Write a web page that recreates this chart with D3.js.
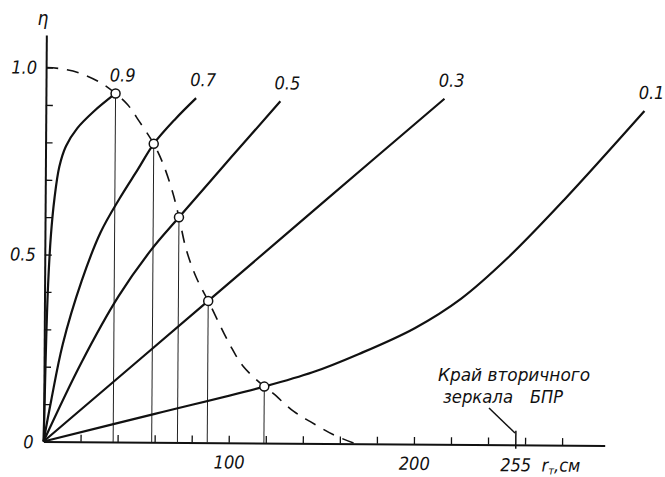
<!DOCTYPE html>
<html>
<head>
<meta charset="utf-8">
<script src="https://cdn.jsdelivr.net/npm/d3@7"></script>
<style>
body { margin: 0; background: #fff; }
text { font-family: "Liberation Sans Narrow", "DejaVu Sans Condensed", "DejaVu Sans", sans-serif; font-style: italic; fill: #111; }
</style>
</head>
<body>
<div id="chart"></div>
<script>

// parameter of every curve, in the same order as the curves below
var curveLabels = ["0.9", "0.7", "0.5", "0.3", "0.1"];

// the curves, as [r_т in cm, η] pairs
var curve09 = [[0, 0], [0.5, 0.12], [1.1, 0.28], [1.9, 0.42], [3.2, 0.55], [5.0, 0.65], [7.5, 0.735], [11, 0.79], [17, 0.838], [26, 0.884], [37.6, 0.932]];
var curve07 = [[0, 0], [4, 0.11], [10, 0.26], [20, 0.43], [30, 0.56], [40, 0.65], [50, 0.73], [58.4, 0.798], [70, 0.865], [81.1, 0.921]];
var curve05 = [[0, 0], [20, 0.21], [40, 0.39], [57.5, 0.515], [72.3, 0.602], [100, 0.762], [126.6, 0.914]];
var curve03 = [[0, 0], [88.4, 0.379], [151.8, 0.652], [215.2, 0.924]];
var curve01 = [[0, 0], [60, 0.076], [119, 0.151], [145, 0.19], [170, 0.24], [200, 0.31], [225, 0.39], [250, 0.5], [280, 0.655], [323.2, 0.895]];

// dashed boundary curve through the marked points
var dashedBound = [[0, 1.0], [8, 0.997], [18, 0.986], [29.7, 0.96], [37.6, 0.932], [44.2, 0.902], [50.6, 0.857], [58.4, 0.798], [63.5, 0.745], [68.9, 0.667], [72.3, 0.602], [76.4, 0.515], [82, 0.44], [88.4, 0.379], [100.3, 0.262], [107.5, 0.205], [119.0, 0.151], [124, 0.132], [135, 0.085], [144, 0.058], [156.3, 0.024], [168.2, 0]];

// marked intersection points
var markR = [37.6, 58.4, 72.3, 88.4, 119.0];
var markEta = [0.932, 0.798, 0.602, 0.379, 0.151];

// ticks
var xTicks = [20, 40, 60, 80, 100, 120, 140, 160, 180, 200, 220, 240, 260, 280];
var xTickLabels = [100, 200];
var yTicks = [0.1, 0.2, 0.3, 0.4, 0.5, 0.6, 0.7, 0.8, 0.9, 1.0];
var yTickLabels = [0.5, 1.0];
var mirrorEdge = 255; // edge of the secondary mirror

var svgWidth = 665, svgHeight = 477;
var originX = 43.5, originY = 441.5;

var svg = d3.select("#chart").append("svg")
    .attr("width", svgWidth)
    .attr("height", svgHeight);

var x = d3.scaleLinear().domain([0, 303]).range([0, 561.2]);
var y = d3.scaleLinear().domain([0, 1.087]).range([0, -406.5]);

// the scan is a little tilted, so the whole plot is turned a bit
var plot = svg.append("g")
    .attr("transform", "translate(" + originX + "," + originY + ") rotate(0.4)");

// x axis
plot.append("g")
    .call(d3.axisBottom(x)
        .tickValues(xTicks)
        .tickSize(-7)
        .tickSizeOuter(0)
        .tickPadding(13)
        .tickFormat(function(d) { return xTickLabels.indexOf(d) >= 0 ? d : ""; }));

// y axis
plot.append("g")
    .call(d3.axisLeft(y)
        .tickValues(yTicks)
        .tickSize(-7)
        .tickSizeOuter(0)
        .tickPadding(9)
        .tickFormat(function(d) { return yTickLabels.indexOf(d) >= 0 ? d3.format(".1f")(d) : ""; }));

plot.selectAll(".domain").attr("stroke", "#111").attr("stroke-width", 2);
plot.selectAll(".tick line").attr("stroke", "#111").attr("stroke-width", 1.3);
plot.selectAll(".tick text").attr("font-size", 18).style("font-family", null);

plot.append("text") // zero at the origin
    .attr("x", -10)
    .attr("y", 7)
    .attr("text-anchor", "end")
    .attr("font-size", 18)
    .text("0");

// mirror edge mark and its label
plot.append("line")
    .attr("x1", x(mirrorEdge)).attr("x2", x(mirrorEdge))
    .attr("y1", 4).attr("y2", -14)
    .attr("stroke", "#111").attr("stroke-width", 1.5);

plot.append("text")
    .attr("x", x(mirrorEdge))
    .attr("y", 26.5)
    .attr("text-anchor", "middle")
    .attr("font-size", 18)
    .text(mirrorEdge);

var unitLabel = plot.append("text")
    .attr("x", x(mirrorEdge) + 26)
    .attr("y", 26.5)
    .attr("font-size", 18);
unitLabel.append("tspan").text("r");
unitLabel.append("tspan").attr("font-size", 11).attr("dy", 3).text("т");
unitLabel.append("tspan").attr("dy", -3).text(",см");

// thin verticals from the marked points down to the axis
plot.selectAll(".drop")
    .data(markR)
    .enter().append("line")
    .attr("class", "drop")
    .attr("x1", function(d) { return x(d); })
    .attr("x2", function(d) { return x(d); })
    .attr("y1", function(d, i) { return y(markEta[i]); })
    .attr("y2", 0)
    .attr("stroke", "#222")
    .attr("stroke-width", 1);

var line = d3.line()
    .x(function(d) { return x(d[0]); })
    .y(function(d) { return y(d[1]); })
    .curve(d3.curveCatmullRom.alpha(0.5));

plot.append("path")
    .attr("d", line(dashedBound))
    .attr("fill", "none")
    .attr("stroke", "#111")
    .attr("stroke-width", 1.6)
    .attr("stroke-dasharray", "12,9");

var curves = [curve09, curve07, curve05, curve03, curve01];

plot.selectAll(".curve")
    .data(curves)
    .enter().append("path")
    .attr("class", "curve")
    .attr("d", line)
    .attr("fill", "none")
    .attr("stroke", "#111")
    .attr("stroke-width", 2.2);

// curve labels, just above the end of each curve
plot.selectAll(".clabel")
    .data(curves)
    .enter().append("text")
    .attr("class", "clabel")
    .attr("x", function(d) { return x(d[d.length - 1][0]) + 7; })
    .attr("y", function(d) { return y(d[d.length - 1][1]) - 12; })
    .attr("text-anchor", "middle")
    .attr("font-size", 18)
    .text(function(d, i) { return curveLabels[i]; });

plot.selectAll(".mark")
    .data(markR)
    .enter().append("circle")
    .attr("class", "mark")
    .attr("cx", function(d) { return x(d); })
    .attr("cy", function(d, i) { return y(markEta[i]); })
    .attr("r", 4.5)
    .attr("fill", "#fff")
    .attr("stroke", "#111")
    .attr("stroke-width", 1.5);

// η at the top of the y axis
svg.append("text")
    .attr("x", 43)
    .attr("y", 25)
    .attr("text-anchor", "middle")
    .attr("font-size", 19)
    .text("η");

// note about the secondary mirror
svg.append("text")
    .attr("x", 438)
    .attr("y", 381)
    .attr("font-size", 18)
    .attr("textLength", 152)
    .attr("lengthAdjust", "spacingAndGlyphs")
    .text("Край вторичного");
svg.append("text")
    .attr("x", 443)
    .attr("y", 403)
    .attr("font-size", 18)
    .attr("textLength", 70)
    .attr("lengthAdjust", "spacingAndGlyphs")
    .text("зеркала");
svg.append("text")
    .attr("x", 530)
    .attr("y", 403)
    .attr("font-size", 18)
    .attr("textLength", 33)
    .attr("lengthAdjust", "spacingAndGlyphs")
    .text("БПР");
svg.append("line")
    .attr("x1", 489).attr("y1", 408)
    .attr("x2", 515).attr("y2", 433)
    .attr("stroke", "#111")
    .attr("stroke-width", 1.5);

</script>
</body>
</html>
